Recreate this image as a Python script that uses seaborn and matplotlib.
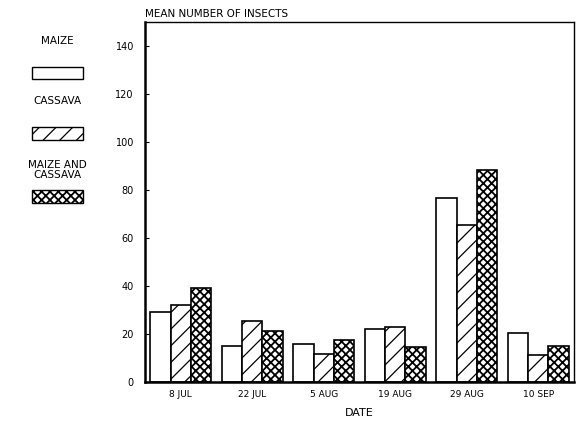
import matplotlib
matplotlib.use("Agg")
import matplotlib.pyplot as plt
import seaborn as sns
import pandas as pd
from matplotlib.patches import Rectangle

dates = ["8 JUL", "22 JUL", "5 AUG", "19 AUG", "29 AUG", "10 SEP"]
maize = [29.2, 15.0, 16.0, 21.9, 76.5, 20.5]
cassava = [32.2, 25.3, 11.6, 23.0, 65.6, 11.2]
maize_cassava = [39.0, 21.3, 17.7, 14.4, 88.3, 15.0]
series = ["MAIZE", "CASSAVA", "MAIZE AND\nCASSAVA"]
yticks = [0, 20, 40, 60, 80, 100, 120, 140]

sns.set_style("white")
plt.rcParams['font.family'] = ['DejaVu Sans']
plt.rcParams['hatch.linewidth'] = 0.9
for k in ["text.color", "axes.labelcolor", "xtick.color", "ytick.color", "axes.edgecolor"]:
    plt.rcParams[k] = "black"

df = pd.DataFrame({
    "date": dates * 3,
    "value": maize + cassava + maize_cassava,
    "crop": [series[0]] * 6 + [series[1]] * 6 + [series[2]] * 6,
})

fig = plt.figure(figsize=(5.76, 4.23), dpi=100)
ax = fig.add_axes([145/576, 1 - 382/423, (574-145)/576, (382-22)/423])

sns.barplot(data=df, x="date", y="value", hue="crop", order=dates, hue_order=series,
            palette=["white"] * 3, edgecolor="black", linewidth=1.2, width=0.85,
            legend=False, ax=ax, errorbar=None)

hatches = ["", "//", "xxxx"]
hatch_lw = [0.9, 0.9, 1.3]
for cont, h, hl in zip(ax.containers, hatches, hatch_lw):
    for bar in cont:
        bar.set_hatch(h)
        bar.set_edgecolor("black")
        if hasattr(bar, "set_hatch_linewidth"):
            bar.set_hatch_linewidth(hl)

ax.set_ylim(0, 150)
ax.set_xlim(-0.5, 5.5)
ax.set_yticks(yticks)
ax.set_yticklabels([str(t) for t in yticks], fontsize=7)
ax.tick_params(axis="y", direction="in", length=3, width=0.8, pad=8, left=True)
ax.tick_params(axis="x", length=0, pad=6, labelsize=6.5)
ax.set_xlabel("DATE", fontsize=8, labelpad=6)
ax.set_ylabel("")
for s in ["left", "bottom"]:
    ax.spines[s].set_linewidth(1.8)
for s in ["top", "right"]:
    ax.spines[s].set_linewidth(1.0)
ax.spines["top"].set_visible(True)
ax.spines["right"].set_visible(True)

fig.text(145/576, 1 - 14/423, "MEAN NUMBER OF INSECTS", fontsize=7.5, ha="left", va="center")

# legend
W = fig.get_figwidth() * 100
H = fig.get_figheight() * 100
def box(y0, y1, hatch, hl):
    r = Rectangle((32/W, 1 - y1/H), (83-32)/W, (y1-y0)/H, transform=fig.transFigure,
                  facecolor="white", edgecolor="black", linewidth=1.0, hatch=hatch)
    if hasattr(r, "set_hatch_linewidth"):
        r.set_hatch_linewidth(hl)
    fig.add_artist(r)
fig.text(57/W, 1 - 41/H, "MAIZE", fontsize=7.5, ha="center", va="center")
box(67, 79, "", 0.9)
fig.text(57/W, 1 - 101/H, "CASSAVA", fontsize=7.5, ha="center", va="center")
box(127, 140, "//", 0.9)
fig.text(57/W, 1 - 170/H, "MAIZE AND\nCASSAVA", fontsize=7.5, ha="center", va="center",
         linespacing=1.0)
box(190, 203, "xxxx", 1.3)

fig.savefig("out.png", dpi=100)
